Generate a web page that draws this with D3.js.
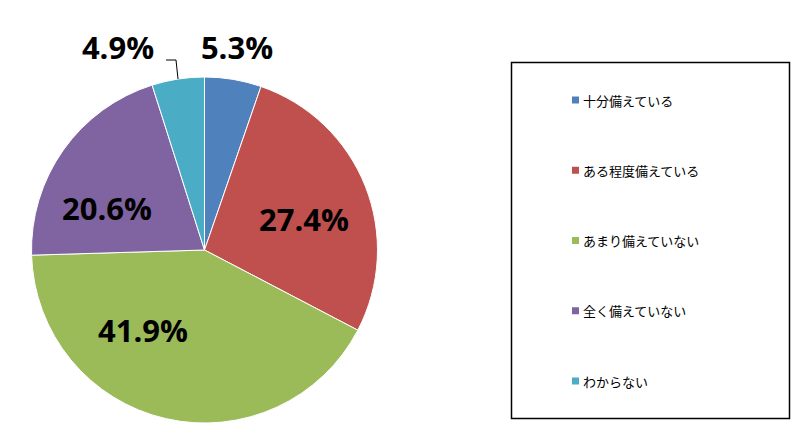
<!DOCTYPE html>
<html><head><meta charset="utf-8">
<script src="https://cdn.jsdelivr.net/npm/d3@7"></script>
<style>body{margin:0;background:#fff}</style>
</head><body>
<script>
var categories = ["十分備えている", "ある程度備えている", "あまり備えていない", "全く備えていない", "わからない"];
var values = [5.3, 27.4, 41.9, 20.6, 4.9];
var colors = ["#4F81BD", "#C0504D", "#9BBB59", "#8064A2", "#4BACC6"];
var labelPos = [[237, 47], [304, 219], [143, 330], [107, 208], [118, 47]];

var svg = d3.select("body").append("svg").attr("width", 807).attr("height", 437);

var cx = 204.5, cy = 250, r = 173;
var pie = d3.pie().sort(null).value(function(d) { return d; });
var arc = d3.arc().innerRadius(0).outerRadius(r);
var arcs = pie(values);

var g = svg.append("g").attr("transform", "translate(" + cx + "," + cy + ")");
g.selectAll("path").data(arcs).enter().append("path")
    .attr("d", arc)
    .attr("fill", function(d, i) { return colors[i]; })
    .attr("stroke", "#fff").attr("stroke-width", 1);

// leader line for the small slice
var mid = arcs[4];
var ang = (mid.startAngle + mid.endAngle) / 2;
var ex = cx + Math.sin(ang) * r, ey = cy - Math.cos(ang) * r;
svg.append("polyline")
    .attr("points", [[166, 60], [176, 60], [ex, ey]].map(function(p) { return p.join(","); }).join(" "))
    .attr("fill", "none").attr("stroke", "#000").attr("stroke-width", 1);

svg.selectAll("text.lbl").data(values).enter().append("text")
    .attr("class", "lbl")
    .attr("x", function(d, i) { return labelPos[i][0]; })
    .attr("y", function(d, i) { return labelPos[i][1]; })
    .attr("text-anchor", "middle").attr("dominant-baseline", "central")
    .style("font-family", "'Open Sans', sans-serif").style("font-weight", "bold")
    .style("font-size", "31px").attr("fill", "#000")
    .text(function(d) { return d.toFixed(1) + "%"; });

// legend
svg.append("rect").attr("x", 511.5).attr("y", 62.5).attr("width", 278).attr("height", 356)
    .attr("fill", "#fff").attr("stroke", "#000").attr("stroke-width", 1.5);
var ly = d3.scalePoint().domain(categories).range([100, 381]);
var lg = svg.selectAll("g.leg").data(categories).enter().append("g")
    .attr("transform", function(d) { return "translate(572," + ly(d) + ")"; });
lg.append("rect").attr("x", 0).attr("y", -3.5).attr("width", 7).attr("height", 7)
    .attr("fill", function(d, i) { return colors[i]; });
lg.append("text").attr("x", 11).attr("y", 0).attr("dominant-baseline", "central")
    .style("font-family", "'Noto Sans CJK JP', sans-serif").style("font-size", "13px")
    .text(function(d) { return d; });
</script>
</body></html>
